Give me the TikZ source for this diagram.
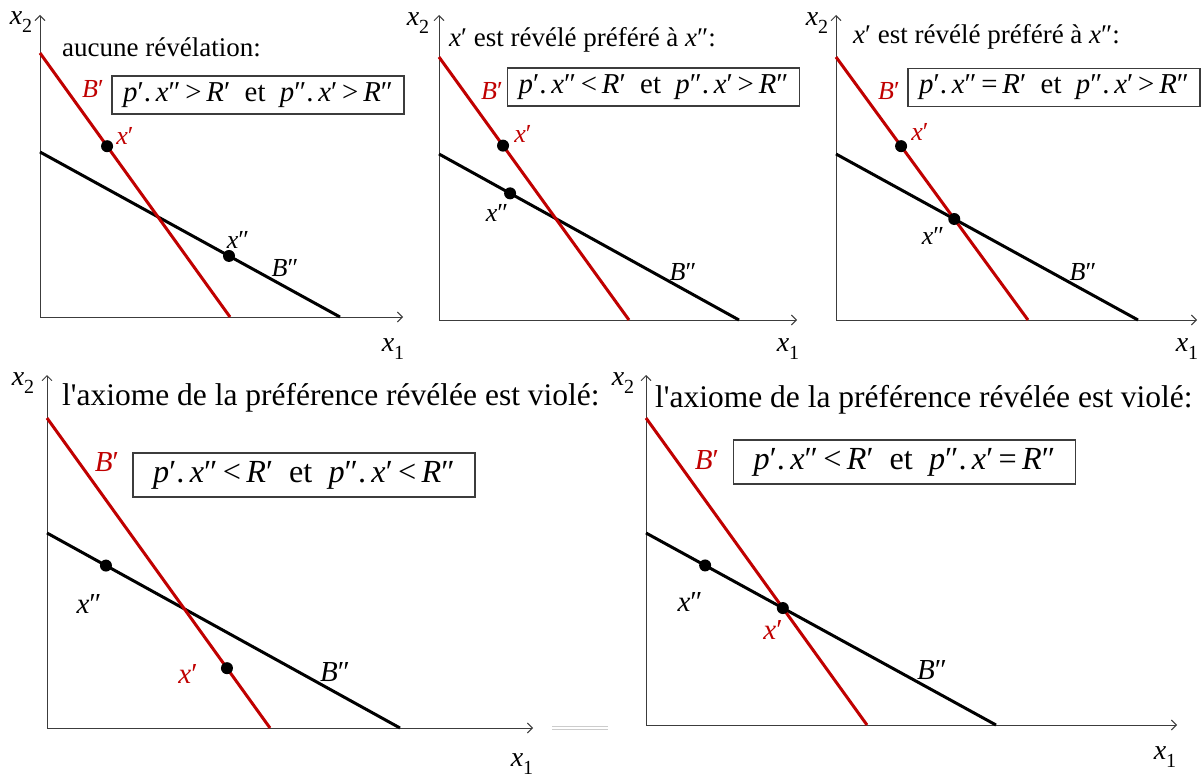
\documentclass[tikz,border=0pt]{standalone}
\usepackage{fontspec}
\setmainfont{Liberation Serif}
\usetikzlibrary{arrows.meta,calc}
\definecolor{bred}{RGB}{192,0,0}
\definecolor{axgray}{RGB}{60,60,60}
\newcommand\axlab[1]{\textit{x}\raisebox{-0.3em}{\fontsize{20}{20}\selectfont #1}}
\newcommand\mi[1]{\textit{#1}}
\tikzset{
  axis/.style={draw=axgray, line width=0.9pt, -{Straight Barb[length=5pt,width=10pt]}},
  rline/.style={draw=bred, line width=3pt},
  kline/.style={draw=black, line width=3pt},
  dot/.style={circle, fill=black, inner sep=0pt, minimum size=12pt},
  condtop/.style={draw=axgray, line width=1.2pt, inner sep=0pt, minimum width=292pt, minimum height=38pt, font=\fontsize{28.8}{30}\selectfont},
  condbot/.style={draw=axgray, line width=1.2pt, inner sep=0pt, minimum width=342pt, minimum height=44pt, font=\fontsize{32.2}{34}\selectfont},
  tittop/.style={anchor=west, inner sep=0pt, font=\fontsize{27}{30}\selectfont},
  titbot/.style={anchor=west, inner sep=0pt, font=\fontsize{31.5}{35}\selectfont},
  labtop/.style={inner sep=0pt, font=\fontsize{26}{28}\selectfont},
  labbot/.style={inner sep=0pt, font=\fontsize{29}{31}\selectfont},
  axname/.style={inner sep=0pt, font=\fontsize{28}{30}\selectfont},
}
\begin{document}
\begin{tikzpicture}[x=1pt,y=-1pt]
\useasboundingbox (0,0) rectangle (1203,778);
\fill[white] (0,0) rectangle (1203,778);

% ---------------- Panel 1 ----------------
\coordinate (o1) at (40,317);
\coordinate (y1) at (40,15);
\coordinate (e1) at (403,317);
\draw[axis] (o1) -- (y1);
\draw[axis] (o1) -- (e1);
\coordinate (r1a) at (40,53);
\coordinate (r1b) at (230,317);
\coordinate (k1a) at (40,152);
\coordinate (k1b) at (340,317);
\draw[kline] (k1a) -- (k1b);
\draw[rline] (r1a) -- (r1b);
\node[dot] (p1xp) at ($(r1a)!0.353!(r1b)$) {};
\node[dot] (p1xs) at ($(k1a)!0.63!(k1b)$) {};
\node[axname] (p1x2) at (21,22) {\axlab{2}};
\node[axname] (p1x1) at (393,349) {\axlab{1}};
\node[tittop] (p1t) at (62,47) {aucune révélation:};
\node[condtop] (p1c) at (258,95) {\mi{p}′.\,\mi{x}″\,>\,\mi{R}′\enspace et\enspace \mi{p}″.\,\mi{x}′\,>\,\mi{R}″};
\node[labtop, text=bred] (p1B) at (93,89) {\mi{B}′};
\node[labtop, text=bred] (p1lxp) at (125,136) {\mi{x}′};
\node[labtop] (p1lxs) at (238,240) {\mi{x}″};
\node[labtop] (p1BB) at (285,268) {\mi{B}″};

% ---------------- Panel 2 ----------------
\coordinate (o2) at (439,320);
\coordinate (y2) at (439,15);
\coordinate (e2) at (797,320);
\draw[axis] (o2) -- (y2);
\draw[axis] (o2) -- (e2);
\coordinate (r2a) at (439,57);
\coordinate (r2b) at (629,320);
\coordinate (k2a) at (439,154);
\coordinate (k2b) at (739,320);
\draw[kline] (k2a) -- (k2b);
\draw[rline] (r2a) -- (r2b);
\node[dot] (p2xp) at ($(r2a)!0.337!(r2b)$) {};
\node[dot] (p2xs) at ($(k2a)!0.237!(k2b)$) {};
\node[axname] (p2x2) at (418,23) {\axlab{2}};
\node[axname] (p2x1) at (788,349) {\axlab{1}};
\node[tittop] (p2t) at (449,40) {\mi{x}′ est révélé préféré à \mi{x}″:};
\node[condtop] (p2c) at (653.5,87) {\mi{p}′.\,\mi{x}″\,<\,\mi{R}′\enspace et\enspace \mi{p}″.\,\mi{x}′\,>\,\mi{R}″};
\node[labtop, text=bred] (p2B) at (492,91) {\mi{B}′};
\node[labtop, text=bred] (p2lxp) at (523,134) {\mi{x}′};
\node[labtop] (p2lxs) at (497,213) {\mi{x}″};
\node[labtop] (p2BB) at (683,272) {\mi{B}″};

% ---------------- Panel 3 ----------------
\coordinate (o3) at (836,320);
\coordinate (y3) at (836,15);
\coordinate (e3) at (1197,320);
\draw[axis] (o3) -- (y3);
\draw[axis] (o3) -- (e3);
\coordinate (r3a) at (836,57);
\coordinate (r3b) at (1028,320);
\coordinate (k3a) at (836,154);
\coordinate (k3b) at (1138,320);
\draw[kline] (k3a) -- (k3b);
\draw[rline] (r3a) -- (r3b);
\node[dot] (p3xp) at ($(r3a)!0.339!(r3b)$) {};
\node[dot] (p3xs) at (intersection of r3a--r3b and k3a--k3b) {};
\node[axname] (p3x2) at (817,23) {\axlab{2}};
\node[axname] (p3x1) at (1187,349) {\axlab{1}};
\node[tittop] (p3t) at (853,37) {\mi{x}′ est révélé préféré à \mi{x}″:};
\node[condtop] (p3c) at (1054,87.5) {\mi{p}′.\,\mi{x}″\,=\,\mi{R}′\enspace et\enspace \mi{p}″.\,\mi{x}′\,>\,\mi{R}″};
\node[labtop, text=bred] (p3B) at (889,91) {\mi{B}′};
\node[labtop, text=bred] (p3lxp) at (920,132) {\mi{x}′};
\node[labtop] (p3lxs) at (933,236) {\mi{x}″};
\node[labtop] (p3BB) at (1083,272) {\mi{B}″};

% ---------------- Panel 4 ----------------
\coordinate (o4) at (47,728);
\coordinate (y4) at (47,375);
\coordinate (e4) at (533,728);
\draw[axis] (o4) -- (y4);
\draw[axis] (o4) -- (e4);
\coordinate (r4a) at (47,418);
\coordinate (r4b) at (270,728);
\coordinate (k4a) at (47,533);
\coordinate (k4b) at (400,728);
\draw[kline] (k4a) -- (k4b);
\draw[rline] (r4a) -- (r4b);
\node[dot] (p4xs) at ($(k4a)!0.167!(k4b)$) {};
\node[dot] (p4xp) at ($(r4a)!0.807!(r4b)$) {};
\node[axname] (p4x2) at (23,383) {\axlab{2}};
\node[axname] (p4x1) at (522,764) {\axlab{1}};
\node[titbot] (p4t) at (62,398) {l\textquotesingle axiome de la préférence révélée est violé:};
\node[condbot] (p4c) at (304,475) {\mi{p}′.\,\mi{x}″\,<\,\mi{R}′\enspace et\enspace \mi{p}″.\,\mi{x}′\,<\,\mi{R}″};
\node[labbot, text=bred] (p4B) at (107,462) {\mi{B}′};
\node[labbot] (p4lxs) at (89,604) {\mi{x}″};
\node[labbot, text=bred] (p4lxp) at (188,674) {\mi{x}′};
\node[labbot] (p4BB) at (335,672) {\mi{B}″};
\draw[gray!40, line width=0.8pt] (552,726.5) -- (608,726.5) (552,729.5) -- (608,729.5);

% ---------------- Panel 5 ----------------
\coordinate (o5) at (646,725);
\coordinate (y5) at (646,375);
\coordinate (e5) at (1177,725);
\draw[axis] (o5) -- (y5);
\draw[axis] (o5) -- (e5);
\coordinate (r5a) at (646,418);
\coordinate (r5b) at (867,725);
\coordinate (k5a) at (646,533);
\coordinate (k5b) at (996,725);
\draw[kline] (k5a) -- (k5b);
\draw[rline] (r5a) -- (r5b);
\node[dot] (p5xs) at ($(k5a)!0.169!(k5b)$) {};
\node[dot] (p5xp) at (intersection of r5a--r5b and k5a--k5b) {};
\node[axname] (p5x2) at (623,383) {\axlab{2}};
\node[axname] (p5x1) at (1165,757) {\axlab{1}};
\node[titbot] (p5t) at (655,400) {l\textquotesingle axiome de la préférence révélée est violé:};
\node[condbot] (p5c) at (904.5,462) {\mi{p}′.\,\mi{x}″\,<\,\mi{R}′\enspace et\enspace \mi{p}″.\,\mi{x}′\,=\,\mi{R}″};
\node[labbot, text=bred] (p5B) at (707,460) {\mi{B}′};
\node[labbot] (p5lxs) at (690,602) {\mi{x}″};
\node[labbot, text=bred] (p5lxp) at (773,630) {\mi{x}′};
\node[labbot] (p5BB) at (932,670) {\mi{B}″};
\end{tikzpicture}
\end{document}
